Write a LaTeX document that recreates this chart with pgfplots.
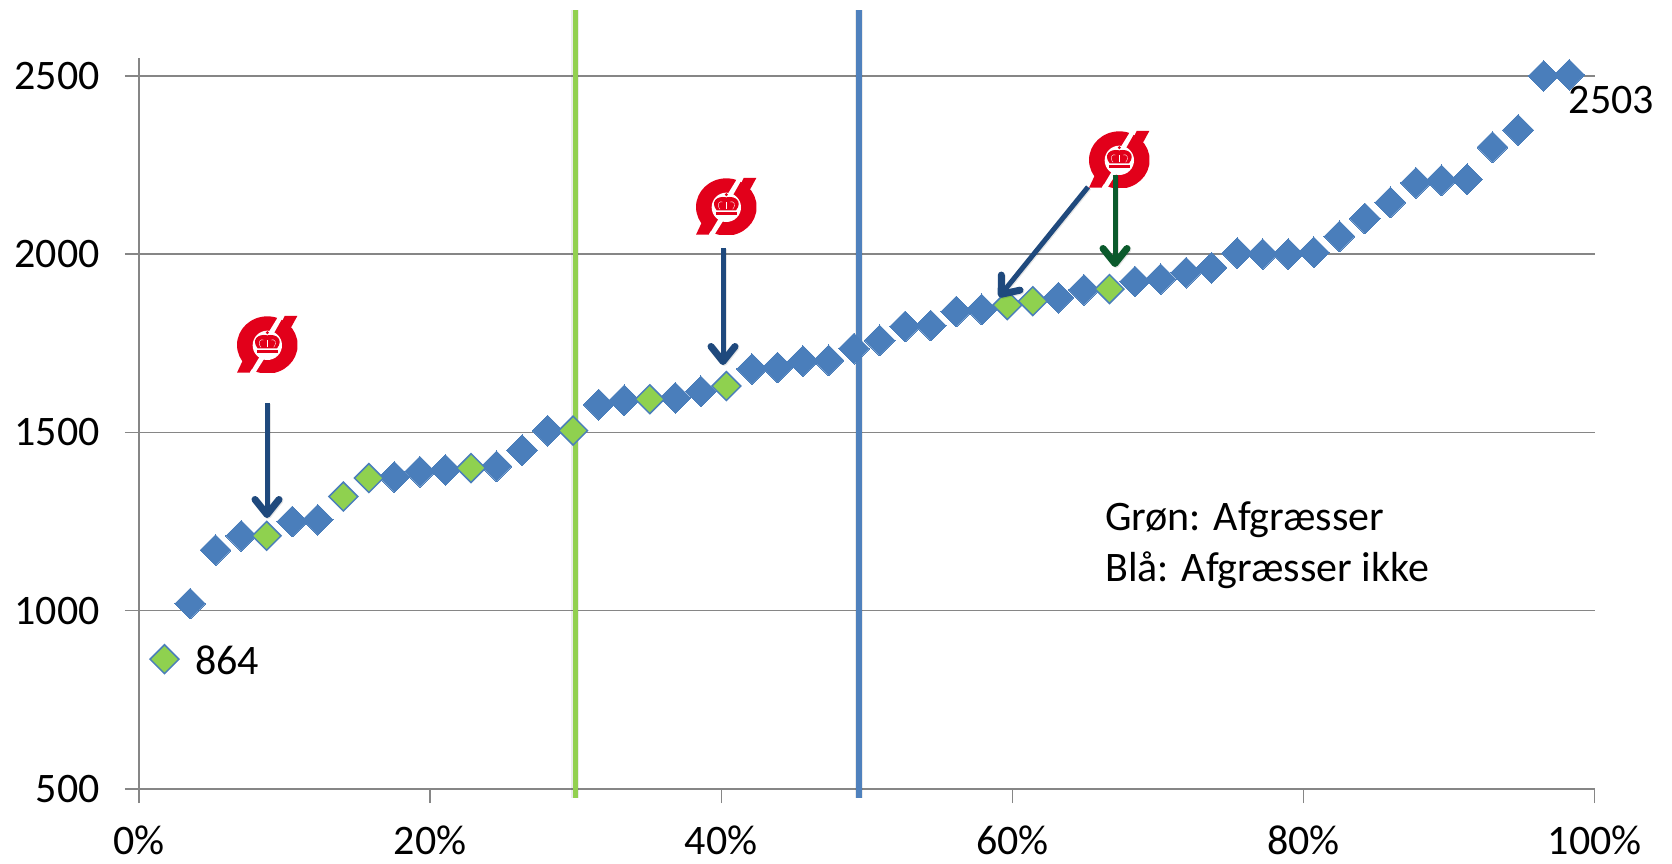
\documentclass[border=0pt]{standalone}
\usepackage{fontspec}
\setmainfont{Carlito}
\usepackage{pgfplots}
\pgfplotsset{compat=1.18}
\usetikzlibrary{arrows.meta}
\definecolor{ptblue}{HTML}{4A7EBB}
\definecolor{ptgreen}{HTML}{8FD14F}
\definecolor{linegreen}{HTML}{92D050}
\definecolor{lineblue}{HTML}{4F81BD}
\definecolor{gridc}{HTML}{868686}
\definecolor{arrnavy}{HTML}{1F497D}
\definecolor{arrgreen}{HTML}{0B5A2C}
\definecolor{logored}{HTML}{E2001A}
\newcommand\bigfont{\fontsize{42}{50}\selectfont}
\newcommand\logo[2]{%
\begin{scope}[shift={(#1pt,#2pt)},x=0.3333pt,y=-0.3333pt]
\begin{scope}
\clip (0,0) rectangle (181,170);
\fill[logored] (91,87) ellipse [x radius=91,y radius=86];
\fill[logored] (143,0) -- (181,0) -- (158,42) -- (123,42) -- cycle;
\fill[logored] (0,170) -- (38,170) -- (58,132) -- (18,132) -- cycle;
\fill[white] (126,-2) -- (141,-2) -- (106,60) -- (88,60) -- cycle;
\fill[white] (38,172) -- (54,172) -- (92,112) -- (74,112) -- cycle;
\fill[white] (91,88) circle (44);
\end{scope}
\fill[logored] (62,97) .. controls (42,72) and (62,52) .. (91,58) .. controls (120,52) and (140,72) .. (120,97) -- cycle;
\draw[white,line width=0.35pt] (72,94) .. controls (60,78) and (70,68) .. (80,72);
\draw[white,line width=0.35pt] (110,94) .. controls (122,78) and (112,68) .. (102,72);
\draw[white,line width=0.35pt] (91,94) -- (91,72);
\fill[logored] (91,50) circle (5);
\fill[logored] (60,101) rectangle (122,111);
\end{scope}}
\begin{document}
\begin{tikzpicture}
\useasboundingbox (-139pt,-74pt) rectangle (1533pt,789pt);
\begin{axis}[
  scale only axis, width=1455.7pt, height=731pt,
  xmin=0, xmax=100, ymin=500, ymax=2550,
  axis lines=left, axis line style={-, gridc, line width=1.4pt},
  xtick={0,20,40,60,80,100},
  ytick={500,1000,1500,2000,2500},
  xticklabel={\pgfmathprintnumber{\tick}\%},
  tick style={gridc, line width=1.4pt},
  tick align=outside, major tick length=14pt,
  ymajorgrids, grid style={gridc, line width=1.4pt},
  /pgf/number format/assume math mode=true,
  /pgf/number format/1000 sep={},
  tick label style={font=\bigfont, inner sep=0pt},
  yticklabel style={xshift=-25pt},
  xticklabel style={yshift=-23pt},
  clip=false,
]
\addplot[only marks, mark=square*, mark size=10.9pt, mark options={rotate=45, fill=ptblue, draw=ptblue, line width=0pt}] coordinates {
(3.51,1020)(5.26,1170)(7.02,1210)(10.53,1250)(12.28,1255)(17.54,1375)(19.30,1390)(21.05,1395)(24.56,1405)(26.32,1450)(28.07,1505)(31.58,1578)(33.33,1590)(36.84,1597)(38.60,1615)(42.11,1678)(43.86,1682)(45.61,1700)(47.37,1702)(49.12,1735)(50.88,1758)(52.63,1797)(54.39,1800)(56.14,1839)(57.89,1845)(63.16,1878)(64.91,1900)(68.42,1923)(70.18,1930)(71.93,1948)(73.68,1962)(75.44,2003)(77.19,2000)(78.95,2000)(80.70,2005)(82.46,2050)(84.21,2100)(85.96,2145)(87.72,2200)(89.47,2207)(91.23,2210)(92.98,2300)(94.74,2348)(96.49,2500)(98.25,2503)};
\addplot[only marks, mark=square*, mark size=10.2pt, mark options={rotate=45, fill=ptgreen, draw=ptblue, line width=1.5pt}] coordinates {
(1.75,864)(8.77,1210)(14.04,1320)(15.79,1372)(22.81,1400)(29.82,1505)(35.09,1593)(40.35,1630)(59.65,1857)(61.40,1868)(66.67,1902)};
\addplot[no marks, black, opacity=0.08, line width=8pt, forget plot] coordinates {(29.97,475)(29.97,2684)};
\addplot[no marks, black, opacity=0.08, line width=8pt, forget plot] coordinates {(49.45,475)(49.45,2684)};
\addplot[no marks, linegreen, line width=5.5pt] coordinates {(29.97,475)(29.97,2684)};
\addplot[no marks, lineblue, line width=5.5pt] coordinates {(49.45,475)(49.45,2684)};
\node[anchor=base west, font=\bigfont, inner sep=0pt] at (axis cs:3.85,822.5) {864};
\node[anchor=base west, font=\bigfont, inner sep=0pt] at (axis cs:98.2,2393) {2503};
\node[anchor=base west, font=\bigfont, inner sep=0pt] at (axis cs:66.36,1226) {Grøn: Afgræsser};
\node[anchor=base west, font=\bigfont, inner sep=0pt] at (axis cs:66.36,1083) {Blå: Afgræsser ikke};
\end{axis}
\logo{98}{473}
\logo{557}{611}
\logo{950}{658}
\tikzset{arr/.style={line width=5pt, -{Straight Barb[length=15pt,width=24pt,line width=7pt,round]}}}
\begin{scope}[black, opacity=0.1]
\draw[arr] (129pt,385pt) -- (129pt,270pt);
\draw[arr] (585pt,540pt) -- (585pt,423pt);
\draw[arr] (950pt,601pt) -- (861pt,491pt);
\draw[arr] (977pt,613pt) -- (977pt,521pt);
\end{scope}
\draw[arr, arrnavy] (128pt,386pt) -- (128pt,271pt);
\draw[arr, arrnavy] (584pt,541pt) -- (584pt,424pt);
\draw[arr, arrnavy] (949pt,602pt) -- (860pt,492pt);
\draw[arr, arrgreen] (976pt,614pt) -- (976pt,522pt);
\end{tikzpicture}
\end{document}
